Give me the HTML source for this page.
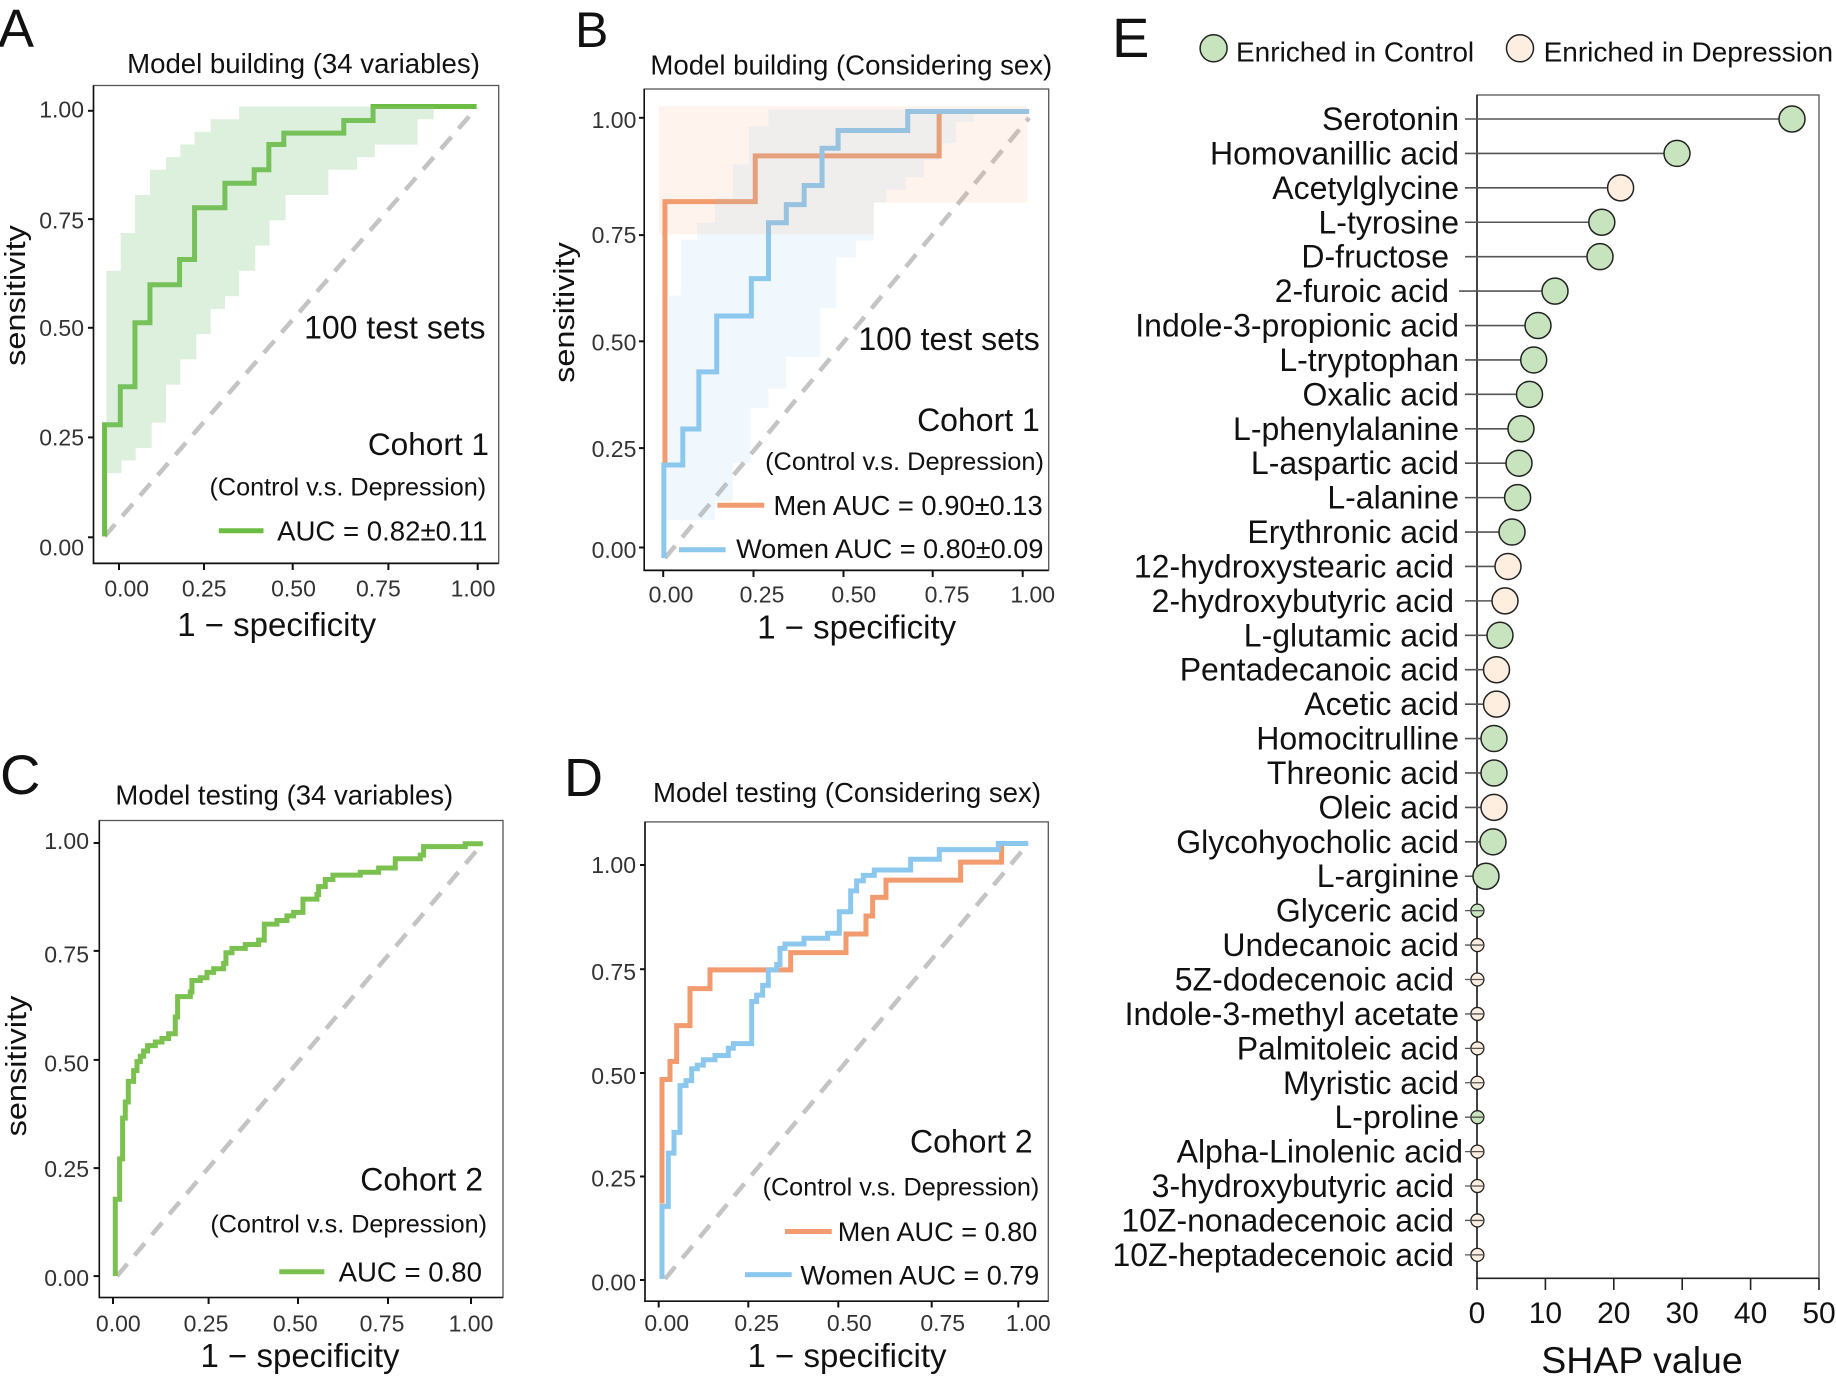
<!DOCTYPE html>
<html><head><meta charset="utf-8">
<style>
html,body{margin:0;padding:0;background:#fff;}
svg{display:block;font-family:"Liberation Sans",Arial,sans-serif;}
.tk{font-size:23px;fill:#333;}
.an{fill:#111;}
</style></head><body>
<svg width="1836" height="1380" viewBox="0 0 1836 1380" xmlns="http://www.w3.org/2000/svg">
<rect width="1836" height="1380" fill="#fff"/>

<!-- ================= PANEL A ================= -->
<text x="-2" y="47" font-size="54" fill="#111">A</text>
<text x="303.5" y="72.8" font-size="27.6" text-anchor="middle" class="an">Model building (34 variables)</text>
<line x1="104.6" y1="536.4" x2="476.6" y2="107.8" stroke="#c4c4c4" stroke-width="4.5" stroke-dasharray="16 11"/>
<g transform="matrix(0.357,0,0,0.4214,0,-0.9)">
  <path d="M293,1275 V1010 H337 V920 H378 V768 H420 V678 H503 V618 H545 V495 H630 V437 H712 V405 H753 V345 H795 V318 H963 V288 H1045 V255 H1335" fill="none" stroke="#6dbd45" stroke-width="5" vector-effect="non-scaling-stroke"/>
  <path d="M298,645 H338 V555 H378 V465 H420 V405 H465 V375 H505 V345 H545 V315 H590 V285 H670 V255 H1215 V285 H1170 V345 H1050 V375 H1000 V405 H920 V465 H800 V525 H755 V585 H715 V645 H670 V705 H630 V735 H590 V795 H550 V855 H505 V915 H465 V1005 H425 V1065 H380 V1095 H340 V1125 H298 Z" fill="#8fc98f" fill-opacity="0.3"/>
</g>
<rect x="93.5" y="85.5" width="405.2" height="477.5" fill="none" stroke="#555" stroke-width="1.3"/>
<line x1="93.5" y1="85.5" x2="93.5" y2="564" stroke="#111" stroke-width="1.6"/>
<line x1="92.7" y1="563.5" x2="498.7" y2="563.5" stroke="#111" stroke-width="1.6"/>
<g stroke="#111" stroke-width="2">
  <line x1="88" y1="110.8" x2="93.5" y2="110.8"/><line x1="88" y1="219.1" x2="93.5" y2="219.1"/>
  <line x1="88" y1="327.8" x2="93.5" y2="327.8"/><line x1="88" y1="437.4" x2="93.5" y2="437.4"/>
  <line x1="88" y1="537.3" x2="93.5" y2="537.3"/>
  <line x1="119" y1="563.5" x2="119" y2="570"/><line x1="204" y1="563.5" x2="204" y2="570"/>
  <line x1="292.7" y1="563.5" x2="292.7" y2="570"/><line x1="388.4" y1="563.5" x2="388.4" y2="570"/>
  <line x1="477.7" y1="563.5" x2="477.7" y2="570"/>
</g>
<g class="tk" text-anchor="end">
  <text x="84" y="117.3">1.00</text><text x="84" y="228.5">0.75</text><text x="84" y="336">0.50</text>
  <text x="84" y="445.6">0.25</text><text x="84" y="555.7">0.00</text>
</g>
<g class="tk" text-anchor="middle">
  <text x="126.7" y="596.6">0.00</text><text x="204.2" y="596.6">0.25</text><text x="293.5" y="596.6">0.50</text>
  <text x="378.4" y="596.6">0.75</text><text x="473" y="596.6">1.00</text>
</g>
<text x="276.7" y="636" font-size="33" text-anchor="middle" class="an">1 − specificity</text>
<text transform="translate(25,295.5) rotate(-90) scale(1,0.88)" font-size="32.5" text-anchor="middle" class="an">sensitivity</text>
<text x="485.5" y="338.3" font-size="32" text-anchor="end" class="an">100 test sets</text>
<text x="489" y="455" font-size="31.6" text-anchor="end" class="an">Cohort 1</text>
<text x="486.2" y="495.5" font-size="25.2" text-anchor="end" class="an">(Control v.s. Depression)</text>
<line x1="218.8" y1="530.8" x2="263.5" y2="530.8" stroke="#6dbd45" stroke-width="5"/>
<text x="487.3" y="540.6" font-size="27.6" text-anchor="end" class="an">AUC = 0.82±0.11</text>

<!-- ================= PANEL B ================= -->
<text x="575" y="47" font-size="50" fill="#111">B</text>
<text x="851.3" y="74.6" font-size="27.6" text-anchor="middle" class="an">Model building (Considering sex)</text>
<line x1="665" y1="558.1" x2="1029.1" y2="117.8" stroke="#c4c4c4" stroke-width="4.5" stroke-dasharray="16 11"/>
<g transform="matrix(0.357,0,0,0.4234,540,-0.76)">
  <path d="M350,1100 V478 H603 V370 H1118 V265 H1370" fill="none" stroke="#f29b6e" stroke-width="5" vector-effect="non-scaling-stroke"/>
  <path d="M347,1320 V1100 H400 V1015 H445 V880 H495 V748 H592 V660 H640 V528 H690 V485 H740 V440 H790 V352 H835 V310 H1030 V265 H1370" fill="none" stroke="#8cc8ee" stroke-width="5" vector-effect="non-scaling-stroke"/>
  <path d="M333,253 H1365 V480 H935 V555 H333 Z" fill="#f5a06e" fill-opacity="0.12"/>
  <path d="M355,1230 V700 H395 V568 H440 V528 H490 V470 H540 V390 H585 V300 H640 V260 H1215 V290 H1165 V340 H1120 V380 H1075 V420 H1025 V450 H970 V480 H935 V570 H885 V610 H830 V730 H785 V845 H690 V920 H640 V965 H590 V1095 H540 V1185 H490 V1230 Z" fill="#8cc8eb" fill-opacity="0.12"/>
</g>
<rect x="644.2" y="89" width="404.5" height="481" fill="none" stroke="#555" stroke-width="1.3"/>
<line x1="644.2" y1="89" x2="644.2" y2="571" stroke="#111" stroke-width="1.6"/>
<line x1="643.4" y1="570.5" x2="1048.7" y2="570.5" stroke="#111" stroke-width="1.6"/>
<g stroke="#111" stroke-width="2">
  <line x1="639" y1="117.8" x2="644.2" y2="117.8"/><line x1="639" y1="235.1" x2="644.2" y2="235.1"/>
  <line x1="639" y1="341.3" x2="644.2" y2="341.3"/><line x1="639" y1="448.1" x2="644.2" y2="448.1"/>
  <line x1="639" y1="547.5" x2="644.2" y2="547.5"/>
  <line x1="663.2" y1="570.5" x2="663.2" y2="577"/><line x1="753.5" y1="570.5" x2="753.5" y2="577"/>
  <line x1="843.5" y1="570.5" x2="843.5" y2="577"/><line x1="932.7" y1="570.5" x2="932.7" y2="577"/>
  <line x1="1022.7" y1="570.5" x2="1022.7" y2="577"/>
</g>
<g class="tk" text-anchor="end">
  <text x="636.4" y="128.1">1.00</text><text x="636.4" y="243.2">0.75</text><text x="636.4" y="350.4">0.50</text>
  <text x="636.4" y="457.1">0.25</text><text x="636.4" y="557.9">0.00</text>
</g>
<g class="tk" text-anchor="middle">
  <text x="671" y="602.6">0.00</text><text x="762" y="602.6">0.25</text><text x="853.8" y="602.6">0.50</text>
  <text x="947" y="602.6">0.75</text><text x="1032.7" y="602.6">1.00</text>
</g>
<text x="856.7" y="638.6" font-size="33" text-anchor="middle" class="an">1 − specificity</text>
<text transform="translate(574,312.5) rotate(-90) scale(1,0.88)" font-size="32.5" text-anchor="middle" class="an">sensitivity</text>
<text x="1039.8" y="349.8" font-size="32" text-anchor="end" class="an">100 test sets</text>
<text x="1039.8" y="431.1" font-size="32" text-anchor="end" class="an">Cohort 1</text>
<text x="1044" y="470" font-size="25.4" text-anchor="end" class="an">(Control v.s. Depression)</text>
<line x1="717.4" y1="505.2" x2="764.2" y2="505.2" stroke="#f29b6e" stroke-width="5"/>
<text x="1042.7" y="514.9" font-size="27.3" text-anchor="end" class="an">Men AUC = 0.90±0.13</text>
<line x1="679" y1="549.7" x2="725.6" y2="549.7" stroke="#8cc8ee" stroke-width="5"/>
<text x="1043.4" y="558.1" font-size="27.1" text-anchor="end" class="an">Women AUC = 0.80±0.09</text>

<!-- ================= PANEL C ================= -->
<text x="0" y="794" font-size="56" fill="#111">C</text>
<text x="284.3" y="804.4" font-size="27.5" text-anchor="middle" class="an">Model testing (34 variables)</text>
<line x1="117" y1="1276.1" x2="483" y2="843" stroke="#c4c4c4" stroke-width="4.5" stroke-dasharray="16 11"/>
<g transform="matrix(0.3333,0,0,0.3573,60.3,779.4)">
  <path d="M165,1390 V1175 H178 V1062 H187 V948 H195 V903 H204 V845 H220 V815 H230 V790 H240 V775 H250 V760 H262 V745 H285 V735 H305 V725 H325 V712 H345 V665 H352 V608 H390 V595 H395 V563 H420 V555 H440 V540 H460 V530 H490 V515 H497 V485 H515 V473 H555 V462 H595 V450 H612 V405 H650 V395 H680 V382 H700 V372 H728 V335 H770 V322 H775 V300 H795 V280 H818 V268 H900 V260 H955 V248 H1005 V222 H1080 V212 H1090 V188 H1215 V180 H1268" fill="none" stroke="#7ac14f" stroke-width="5" vector-effect="non-scaling-stroke"/>
</g>
<rect x="99.3" y="820.5" width="403.7" height="477" fill="none" stroke="#555" stroke-width="1.3"/>
<line x1="99.3" y1="820.5" x2="99.3" y2="1298" stroke="#111" stroke-width="1.6"/>
<line x1="98.5" y1="1297.5" x2="503" y2="1297.5" stroke="#111" stroke-width="1.6"/>
<g stroke="#111" stroke-width="2">
  <line x1="93.6" y1="843" x2="99.3" y2="843"/><line x1="93.6" y1="950.9" x2="99.3" y2="950.9"/>
  <line x1="93.6" y1="1059.9" x2="99.3" y2="1059.9"/><line x1="93.6" y1="1168.1" x2="99.3" y2="1168.1"/>
  <line x1="93.6" y1="1276.1" x2="99.3" y2="1276.1"/>
  <line x1="113" y1="1297.5" x2="113" y2="1304"/><line x1="208.6" y1="1297.5" x2="208.6" y2="1304"/>
  <line x1="298" y1="1297.5" x2="298" y2="1304"/><line x1="388" y1="1297.5" x2="388" y2="1304"/>
  <line x1="471" y1="1297.5" x2="471" y2="1304"/>
</g>
<g class="tk" text-anchor="end">
  <text x="89" y="849.1">1.00</text><text x="89" y="962.7">0.75</text><text x="89" y="1071.6">0.50</text>
  <text x="89" y="1177.1">0.25</text><text x="89" y="1286">0.00</text>
</g>
<g class="tk" text-anchor="middle">
  <text x="118.3" y="1331.4">0.00</text><text x="206" y="1331.4">0.25</text><text x="295.3" y="1331.4">0.50</text>
  <text x="382" y="1331.4">0.75</text><text x="471" y="1331.4">1.00</text>
</g>
<text x="300" y="1367" font-size="33" text-anchor="middle" class="an">1 − specificity</text>
<text transform="translate(26,1066) rotate(-90) scale(1,0.88)" font-size="32.5" text-anchor="middle" class="an">sensitivity</text>
<text x="483" y="1190.3" font-size="32" text-anchor="end" class="an">Cohort 2</text>
<text x="487" y="1232.5" font-size="25.2" text-anchor="end" class="an">(Control v.s. Depression)</text>
<line x1="279.3" y1="1271.8" x2="324.3" y2="1271.8" stroke="#7ac14f" stroke-width="5"/>
<text x="482" y="1281.4" font-size="27.6" text-anchor="end" class="an">AUC = 0.80</text>

<!-- ================= PANEL D ================= -->
<text x="564" y="796" font-size="54" fill="#111">D</text>
<text x="847" y="801.8" font-size="27.6" text-anchor="middle" class="an">Model testing (Considering sex)</text>
<line x1="665" y1="1278.9" x2="1028.3" y2="843.5" stroke="#c4c4c4" stroke-width="4.5" stroke-dasharray="16 11"/>
<g transform="matrix(0.3333,0,0,0.3593,600,779.5)">
  <path d="M186,1180 V835 H210 V785 H230 V685 H270 V582 H330 V530 H572 V482 H738 V430 H798 V380 H818 V328 H858 V280 H1082 V230 H1205 V180" fill="none" stroke="#f29b6e" stroke-width="5" vector-effect="non-scaling-stroke"/>
  <path d="M186,1390 V1188 H205 V1040 H222 V982 H240 V852 H258 V838 H275 V805 H292 V795 H310 V780 H345 V768 H385 V748 H400 V735 H455 V618 H470 V600 H488 V573 H505 V530 H530 V515 H540 V470 H555 V458 H612 V442 H683 V428 H718 V368 H752 V310 H770 V282 H790 V267 H823 V252 H932 V222 H1018 V195 H1195 V178 H1285" fill="none" stroke="#8cc8ee" stroke-width="5" vector-effect="non-scaling-stroke"/>
</g>
<rect x="645" y="821.9" width="403.3" height="479.3" fill="none" stroke="#555" stroke-width="1.3"/>
<line x1="645" y1="821.9" x2="645" y2="1302" stroke="#111" stroke-width="1.6"/>
<line x1="644.2" y1="1301.2" x2="1048.3" y2="1301.2" stroke="#111" stroke-width="1.6"/>
<g stroke="#111" stroke-width="2">
  <line x1="640" y1="865" x2="645" y2="865"/><line x1="640" y1="969.2" x2="645" y2="969.2"/>
  <line x1="640" y1="1073" x2="645" y2="1073"/><line x1="640" y1="1176.5" x2="645" y2="1176.5"/>
  <line x1="640" y1="1280" x2="645" y2="1280"/>
  <line x1="658.7" y1="1301.2" x2="658.7" y2="1307.5"/><line x1="748.3" y1="1301.2" x2="748.3" y2="1307.5"/>
  <line x1="838.3" y1="1301.2" x2="838.3" y2="1307.5"/><line x1="931.7" y1="1301.2" x2="931.7" y2="1307.5"/>
  <line x1="1018.3" y1="1301.2" x2="1018.3" y2="1307.5"/>
</g>
<g class="tk" text-anchor="end">
  <text x="636" y="873.2">1.00</text><text x="636" y="979.9">0.75</text><text x="636" y="1084.1">0.50</text>
  <text x="636" y="1186.5">0.25</text><text x="636" y="1290.7">0.00</text>
</g>
<g class="tk" text-anchor="middle">
  <text x="666.7" y="1331">0.00</text><text x="756.7" y="1331">0.25</text><text x="849.3" y="1331">0.50</text>
  <text x="942.7" y="1331">0.75</text><text x="1028.3" y="1331">1.00</text>
</g>
<text x="847" y="1367" font-size="33" text-anchor="middle" class="an">1 − specificity</text>
<text x="1032.7" y="1152.5" font-size="32" text-anchor="end" class="an">Cohort 2</text>
<text x="1039.3" y="1195.6" font-size="25.2" text-anchor="end" class="an">(Control v.s. Depression)</text>
<line x1="785" y1="1231.5" x2="831.7" y2="1231.5" stroke="#f29b6e" stroke-width="5"/>
<text x="1037.3" y="1241.2" font-size="27.1" text-anchor="end" class="an">Men AUC = 0.80</text>
<line x1="745" y1="1274.6" x2="791.7" y2="1274.6" stroke="#8cc8ee" stroke-width="5"/>
<text x="1039.3" y="1284.3" font-size="27" text-anchor="end" class="an">Women AUC = 0.79</text>

<!-- ================= PANEL E ================= -->
<text x="1112" y="57" font-size="56" fill="#111">E</text>
<circle cx="1213.6" cy="48.3" r="13.5" fill="#c8e4be" stroke="#222" stroke-width="1.5"/>
<text x="1236" y="61.7" font-size="28" class="an">Enriched in Control</text>
<circle cx="1520" cy="48.3" r="13.5" fill="#fdeee0" stroke="#222" stroke-width="1.5"/>
<text x="1543.6" y="61.7" font-size="28" class="an">Enriched in Depression</text>

<rect x="1477" y="95" width="342" height="1183.3" fill="none" stroke="#555" stroke-width="1.3"/>
<line x1="1477" y1="95" x2="1477" y2="1279" stroke="#222" stroke-width="1.6"/>
<line x1="1476.2" y1="1278.3" x2="1819" y2="1278.3" stroke="#222" stroke-width="1.6"/>
<g stroke="#222" stroke-width="1.6">
  <line x1="1477" y1="1278.3" x2="1477" y2="1290"/><line x1="1545.4" y1="1278.3" x2="1545.4" y2="1290"/>
  <line x1="1613.8" y1="1278.3" x2="1613.8" y2="1290"/><line x1="1682.2" y1="1278.3" x2="1682.2" y2="1290"/>
  <line x1="1750.6" y1="1278.3" x2="1750.6" y2="1290"/><line x1="1819" y1="1278.3" x2="1819" y2="1290"/>
</g>
<g font-size="30" text-anchor="middle" fill="#111">
  <text x="1477" y="1323">0</text><text x="1545.4" y="1323">10</text><text x="1613.8" y="1323">20</text>
  <text x="1682.2" y="1323">30</text><text x="1750.6" y="1323">40</text><text x="1819" y="1323">50</text>
</g>
<text x="1642" y="1373" font-size="37.5" text-anchor="middle" class="an">SHAP value</text>

<!-- lollipop lines -->
<g stroke="#555" stroke-width="1.6">
  <line x1="1465" y1="119" x2="1792" y2="119"/>
  <line x1="1465" y1="153.42" x2="1677" y2="153.42"/>
  <line x1="1465" y1="187.84" x2="1620.6" y2="187.84"/>
  <line x1="1465" y1="222.26" x2="1601.8" y2="222.26"/>
  <line x1="1465" y1="256.68" x2="1600" y2="256.68"/>
  <line x1="1459" y1="291.1" x2="1555" y2="291.1"/>
  <line x1="1465" y1="325.52" x2="1538" y2="325.52"/>
  <line x1="1465" y1="359.94" x2="1533.7" y2="359.94"/>
  <line x1="1465" y1="394.36" x2="1529.5" y2="394.36"/>
  <line x1="1465" y1="428.78" x2="1521" y2="428.78"/>
  <line x1="1465" y1="463.2" x2="1519" y2="463.2"/>
  <line x1="1465" y1="497.62" x2="1517.6" y2="497.62"/>
  <line x1="1465" y1="532.04" x2="1512" y2="532.04"/>
  <line x1="1465" y1="566.46" x2="1508" y2="566.46"/>
  <line x1="1465" y1="600.88" x2="1505" y2="600.88"/>
  <line x1="1465" y1="635.3" x2="1500" y2="635.3"/>
  <line x1="1465" y1="669.72" x2="1496.5" y2="669.72"/>
  <line x1="1465" y1="704.14" x2="1496.5" y2="704.14"/>
  <line x1="1465" y1="738.56" x2="1494" y2="738.56"/>
  <line x1="1465" y1="772.98" x2="1494" y2="772.98"/>
  <line x1="1465" y1="807.4" x2="1494" y2="807.4"/>
  <line x1="1465" y1="841.82" x2="1493" y2="841.82"/>
  <line x1="1465" y1="876.24" x2="1486" y2="876.24"/>
</g>
<!-- big circles -->
<g stroke="#222" stroke-width="1.5">
  <circle cx="1792" cy="119" r="13" fill="#c8e4be"/>
  <circle cx="1677" cy="153.42" r="13" fill="#c8e4be"/>
  <circle cx="1620.6" cy="187.84" r="13" fill="#fdeee0"/>
  <circle cx="1601.8" cy="222.26" r="13" fill="#c8e4be"/>
  <circle cx="1600" cy="256.68" r="13" fill="#c8e4be"/>
  <circle cx="1555" cy="291.1" r="13" fill="#c8e4be"/>
  <circle cx="1538" cy="325.52" r="13" fill="#c8e4be"/>
  <circle cx="1533.7" cy="359.94" r="13" fill="#c8e4be"/>
  <circle cx="1529.5" cy="394.36" r="13" fill="#c8e4be"/>
  <circle cx="1521" cy="428.78" r="13" fill="#c8e4be"/>
  <circle cx="1519" cy="463.2" r="13" fill="#c8e4be"/>
  <circle cx="1517.6" cy="497.62" r="13" fill="#c8e4be"/>
  <circle cx="1512" cy="532.04" r="13" fill="#c8e4be"/>
  <circle cx="1508" cy="566.46" r="13" fill="#fdeee0"/>
  <circle cx="1505" cy="600.88" r="13" fill="#fdeee0"/>
  <circle cx="1500" cy="635.3" r="13" fill="#c8e4be"/>
  <circle cx="1496.5" cy="669.72" r="13" fill="#fdeee0"/>
  <circle cx="1496.5" cy="704.14" r="13" fill="#fdeee0"/>
  <circle cx="1494" cy="738.56" r="13" fill="#c8e4be"/>
  <circle cx="1494" cy="772.98" r="13" fill="#c8e4be"/>
  <circle cx="1494" cy="807.4" r="13" fill="#fdeee0"/>
  <circle cx="1493" cy="841.82" r="13" fill="#c8e4be"/>
  <circle cx="1486" cy="876.24" r="13" fill="#c8e4be"/>
</g>
<!-- small circles -->
<g stroke="#222" stroke-width="1.3">
  <circle cx="1477.4" cy="910.66" r="6.5" fill="#c8e4be"/>
  <circle cx="1477.4" cy="945.08" r="6.5" fill="#fdeee0"/>
  <circle cx="1477.4" cy="979.5" r="6.5" fill="#fdeee0"/>
  <circle cx="1477.4" cy="1013.92" r="6.5" fill="#fdeee0"/>
  <circle cx="1477.4" cy="1048.34" r="6.5" fill="#fdeee0"/>
  <circle cx="1477.4" cy="1082.76" r="6.5" fill="#fdeee0"/>
  <circle cx="1477.4" cy="1117.18" r="6.5" fill="#c8e4be"/>
  <circle cx="1477.4" cy="1151.6" r="6.5" fill="#fdeee0"/>
  <circle cx="1477.4" cy="1186.02" r="6.5" fill="#fdeee0"/>
  <circle cx="1477.4" cy="1220.44" r="6.5" fill="#fdeee0"/>
  <circle cx="1477.4" cy="1254.86" r="6.5" fill="#fdeee0"/>
</g>
<g stroke="#555" stroke-width="1.3">
  <line x1="1465" y1="910.66" x2="1484" y2="910.66"/>
  <line x1="1465" y1="945.08" x2="1484" y2="945.08"/>
  <line x1="1465" y1="979.5" x2="1484" y2="979.5"/>
  <line x1="1465" y1="1013.92" x2="1484" y2="1013.92"/>
  <line x1="1465" y1="1048.34" x2="1484" y2="1048.34"/>
  <line x1="1465" y1="1082.76" x2="1484" y2="1082.76"/>
  <line x1="1465" y1="1117.18" x2="1484" y2="1117.18"/>
  <line x1="1465" y1="1151.6" x2="1484" y2="1151.6"/>
  <line x1="1465" y1="1186.02" x2="1484" y2="1186.02"/>
  <line x1="1465" y1="1220.44" x2="1484" y2="1220.44"/>
  <line x1="1465" y1="1254.86" x2="1484" y2="1254.86"/>
</g>
<!-- labels -->
<g font-size="32" text-anchor="end" fill="#111">
  <text x="1459" y="130">Serotonin</text>
  <text x="1459" y="164.42">Homovanillic acid</text>
  <text x="1459" y="198.84">Acetylglycine</text>
  <text x="1459" y="233.26">L-tyrosine</text>
  <text x="1449" y="267.68">D-fructose</text>
  <text x="1449" y="302.1">2-furoic acid</text>
  <text x="1459" y="336.52">Indole-3-propionic acid</text>
  <text x="1459" y="370.94">L-tryptophan</text>
  <text x="1459" y="405.36">Oxalic acid</text>
  <text x="1459" y="439.78">L-phenylalanine</text>
  <text x="1459" y="474.2">L-aspartic acid</text>
  <text x="1459" y="508.62">L-alanine</text>
  <text x="1459" y="543.04">Erythronic acid</text>
  <text x="1454" y="577.46">12-hydroxystearic acid</text>
  <text x="1454" y="611.88">2-hydroxybutyric acid</text>
  <text x="1459" y="646.3">L-glutamic acid</text>
  <text x="1459" y="680.72">Pentadecanoic acid</text>
  <text x="1459" y="715.14">Acetic acid</text>
  <text x="1459" y="749.56">Homocitrulline</text>
  <text x="1459" y="783.98">Threonic acid</text>
  <text x="1459" y="818.4">Oleic acid</text>
  <text x="1459" y="852.82">Glycohyocholic acid</text>
  <text x="1459" y="887.24">L-arginine</text>
  <text x="1459" y="921.66">Glyceric acid</text>
  <text x="1459" y="956.08">Undecanoic acid</text>
  <text x="1454" y="990.5">5Z-dodecenoic acid</text>
  <text x="1459" y="1024.92">Indole-3-methyl acetate</text>
  <text x="1459" y="1059.34">Palmitoleic acid</text>
  <text x="1459" y="1093.76">Myristic acid</text>
  <text x="1459" y="1128.18">L-proline</text>
  <text x="1463" y="1162.6">Alpha-Linolenic acid</text>
  <text x="1454" y="1197.02">3-hydroxybutyric acid</text>
  <text x="1454" y="1231.44">10Z-nonadecenoic acid</text>
  <text x="1454" y="1265.86">10Z-heptadecenoic acid</text>
</g>
</svg>
</body></html>
